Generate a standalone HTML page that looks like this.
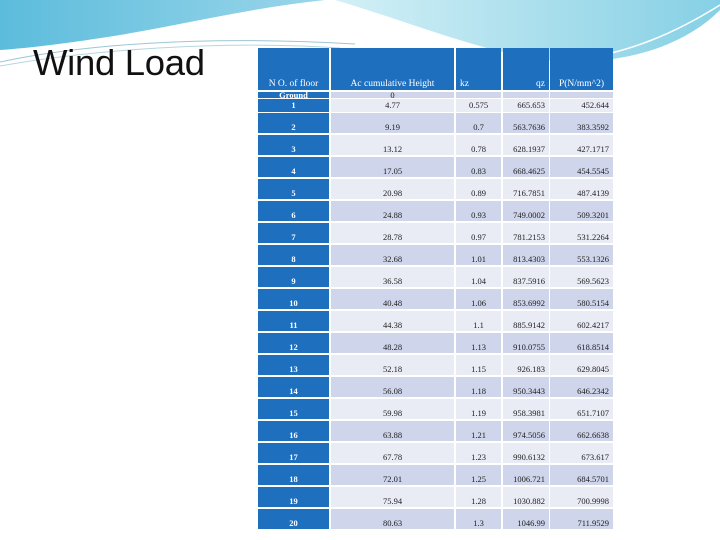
<!DOCTYPE html>
<html><head><meta charset="utf-8"><style>
body{margin:0;width:720px;height:540px;overflow:hidden;background:#fff;position:relative;font-family:"Liberation Sans",sans-serif}
#deco{position:absolute;left:0;top:0}
#title{position:absolute;left:33px;top:42px;font-size:36.5px;color:#111;letter-spacing:-0.3px}
.c{position:absolute;font-family:"Liberation Serif",serif;font-size:8.5px;color:#222;box-sizing:border-box;padding:0 4px;display:flex;align-items:flex-end;padding-bottom:1px}
.h{background:#1f6fbf;color:#fff;font-size:9.5px}
.f{background:#1f6fbf;color:#fff;justify-content:center;font-weight:bold}
.d{background:#cfd5ea}.l{background:#e9ebf5}
</style></head><body>
<svg id="deco" width="720" height="140">
<defs><linearGradient id="g1" x1="0" x2="1"><stop offset="0" stop-color="#5cbcdc"/><stop offset="1" stop-color="#9ad6ea"/></linearGradient>
<linearGradient id="g2" x1="0" x2="1"><stop offset="0" stop-color="#d3f0f6"/><stop offset="1" stop-color="#86d0e5"/></linearGradient></defs>
<path d="M0,0 H325 C250,8 180,25 120,35 C70,43 30,48 0,50 Z" fill="url(#g1)"/>
<path d="M335,0 H720 V10 C690,40 640,62 570,62 C500,60 420,25 335,0 Z" fill="url(#g2)"/>
<path d="M0,62 C80,45 200,35 355,44" stroke="#9cc6d4" fill="none" stroke-width="1"/>
<path d="M0,66 C90,50 220,40 340,48" stroke="#b6d6e0" fill="none" stroke-width="1"/>
<path d="M560,62 C630,55 680,30 720,5" stroke="#fff" fill="none" stroke-width="1.5"/>
</svg>
<div id="title">Wind Load</div>
<div id="tbl"></div>
<script>
const floors=["Ground","1","2","3","4","5","6","7","8","9","10","11","12","13","14","15","16","17","18","19","20"];
const heights=["0","4.77","9.19","13.12","17.05","20.98","24.88","28.78","32.68","36.58","40.48","44.38","48.28","52.18","56.08","59.98","63.88","67.78","72.01","75.94","80.63"];
const kz=["","0.575","0.7","0.78","0.83","0.89","0.93","0.97","1.01","1.04","1.06","1.1","1.13","1.15","1.18","1.19","1.21","1.23","1.25","1.28","1.3"];
const qz=["","665.653","563.7636","628.1937","668.4625","716.7851","749.0002","781.2153","813.4303","837.5916","853.6992","885.9142","910.0755","926.183","950.3443","958.3981","974.5056","990.6132","1006.721","1030.882","1046.99"];
const pz=["","452.644","383.3592","427.1717","454.5545","487.4139","509.3201","531.2264","553.1326","569.5623","580.5154","602.4217","618.8514","629.8045","646.2342","651.7107","662.6638","673.617","684.5701","700.9998","711.9529"];
const cols=[[258,71],[331,123],[456,45],[503,46],[550,63]];
const tbl=document.getElementById('tbl');
function cell(x,y,w,h,cls,txt,align){const d=document.createElement('div');d.className='c '+cls;d.style.left=x+'px';d.style.top=y+'px';d.style.width=w+'px';d.style.height=h+'px';if(align)d.style.justifyContent=align;d.textContent=txt;tbl.appendChild(d);return d;}
const hdr=["N O. of floor","Ac cumulative Height","kz","qz","P(N/mm^2)"];
const ha=["center","center","flex-start","flex-end","center"];
hdr.forEach((t,i)=>{const d=cell(cols[i][0],48,cols[i][1],42,'h',t,ha[i]);

});
floors.forEach((f,r)=>{
 let top,h;
 if(r===0){top=92;h=6;}else if(r===1){top=99;h=13;}else{top=113+22*(r-2);h=20;}
 const shade=(r%2===0)?'d':'l';
 const vals=[f,heights[r],kz[r],qz[r],pz[r]];
 vals.forEach((v,i)=>{const d=cell(cols[i][0],top,cols[i][1],h,i===0?'f':shade,v,i===0?'center':(i===1||i===2)?'center':'flex-end');
 if(r<2)d.style.alignItems='center';
 
 });
});
</script>
</body></html>
